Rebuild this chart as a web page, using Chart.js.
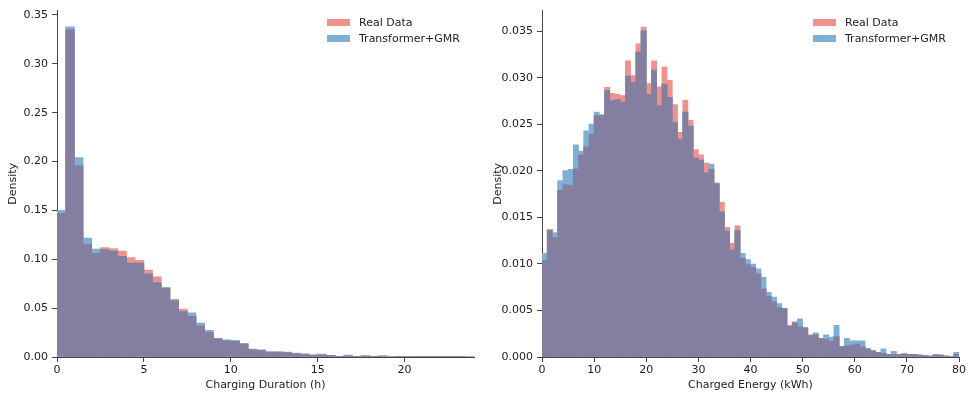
<!DOCTYPE html>
<html>
<head>
<meta charset="utf-8">
<script src="https://cdn.jsdelivr.net/npm/chart.js@4.4.0/dist/chart.umd.min.js"></script>
<style>
  body { margin: 0; background: #fff; width: 970px; height: 399px; overflow: hidden; font-family: "DejaVu Sans", sans-serif; }
  .panel { position: absolute; top: 0; width: 485px; height: 399px; }
  .legend { position: absolute; font-size: 11px; color: #222; }
  .legend-row { display: flex; align-items: center; height: 16px; }
  .legend-box { width: 23px; height: 7px; margin-right: 9px; }
</style>
</head>
<body>
<div class="panel" style="left:0"><canvas id="durationChart" width="485" height="399"></canvas></div>
<div class="panel" style="left:485px"><canvas id="energyChart" width="485" height="399"></canvas></div>

<script>
const seriesLabels = ["Real Data", "Transformer+GMR"];
const seriesColors = ["#f0918c", "#7eb0d6"];
const overlapColor = "#847fa0"; // where both translucent histograms cover each other

// charging duration (h), bins of 0.5 h from 0 to 24
const durationBinWidth = 0.5;
const durationReal = [
  0.147, 0.335, 0.196, 0.1156, 0.106, 0.112, 0.111, 0.1085, 0.1017, 0.099,
  0.0889, 0.082, 0.0705, 0.059, 0.049, 0.042, 0.032, 0.0253, 0.019, 0.0165,
  0.0163, 0.0135, 0.0077, 0.0068, 0.0053, 0.0054, 0.0051, 0.0040, 0.0034, 0.0020,
  0.0020, 0.0016, 0.0007, 0.0010, 0.0007, 0.0010, 0.0006, 0.0008, 0.0005, 0.0004,
  0.0004, 0.0003, 0.0002, 0.0002, 0.0001, 0.0001, 0.0004, 0.0001
];
const durationModel = [
  0.150, 0.338, 0.204, 0.1217, 0.1105, 0.110, 0.1085, 0.103, 0.096, 0.096,
  0.0848, 0.076, 0.071, 0.0574, 0.0466, 0.0452, 0.0348, 0.0274, 0.0189, 0.0175,
  0.0168, 0.0135, 0.0081, 0.0074, 0.0051, 0.0050, 0.0045, 0.0034, 0.0024, 0.0020,
  0.0030, 0.0017, 0.0007, 0.0020, 0.0007, 0.0014, 0.0006, 0.0014, 0.0005, 0.0003,
  0.0005, 0.0002, 0.0002, 0.0001, 0.0001, 0.0001, 0.0003, 0.0000
];
const durationXTicks = [0, 5, 10, 15, 20];
const durationYTicks = [0, 0.05, 0.10, 0.15, 0.20, 0.25, 0.30, 0.35];

// charged energy (kWh), bins of 1 kWh from 0 to 80
const energyBinWidth = 1;
const energyReal = [
  0.01035, 0.01372, 0.01283, 0.0179, 0.01854, 0.01844, 0.0202, 0.02173, 0.02259, 0.02394,
  0.02596, 0.0260, 0.02897, 0.02833, 0.02822, 0.02809, 0.03184, 0.03024, 0.03365, 0.03546,
  0.02939, 0.03184, 0.02904, 0.03117, 0.02974, 0.02713, 0.02415, 0.02762, 0.02543, 0.0223,
  0.02173, 0.02085, 0.0202, 0.01872, 0.01663, 0.01394, 0.01223, 0.01411, 0.0106, 0.00993,
  0.00964, 0.00894, 0.00734, 0.00652, 0.00592, 0.00532, 0.00521, 0.0034, 0.00379, 0.00326,
  0.0031, 0.00237, 0.0024, 0.00202, 0.00191, 0.0017, 0.0022, 0.00113, 0.0012, 0.00128,
  0.0014, 0.0011, 0.00088, 0.00067, 0.00049, 0.0004, 0.0003, 0.0003, 0.0003, 0.0003,
  0.0003, 0.0003, 0.0002, 0.00015, 0.0001, 0.0002, 0.0002, 0.0001, 0.00005, 0.0003
];
const energyModel = [
  0.01113, 0.01362, 0.01336, 0.01897, 0.02003, 0.02017, 0.0228, 0.0221, 0.02432, 0.02503,
  0.02631, 0.02599, 0.02865, 0.02755, 0.02766, 0.0274, 0.0302, 0.0295, 0.03277, 0.03506,
  0.02822, 0.03085, 0.02702, 0.02932, 0.0279, 0.02521, 0.02336, 0.02631, 0.02482, 0.02138,
  0.02117, 0.01979, 0.02074, 0.01862, 0.0156, 0.01354, 0.01149, 0.01358, 0.01113, 0.01046,
  0.0100, 0.00947, 0.00857, 0.00695, 0.00645, 0.00574, 0.00521, 0.00333, 0.0037, 0.00411,
  0.00319, 0.0023, 0.00259, 0.00202, 0.00237, 0.00213, 0.0034, 0.00113, 0.00202, 0.00173,
  0.00173, 0.00173, 0.00088, 0.00067, 0.00049, 0.00088, 0.0003, 0.0006, 0.0003, 0.0004,
  0.0003, 0.0003, 0.0002, 0.00015, 0.0001, 0.0003, 0.0002, 0.0001, 0.00005, 0.0005
];
const energyXTicks = [0, 10, 20, 30, 40, 50, 60, 70, 80];
const energyYTicks = [0, 0.005, 0.010, 0.015, 0.020, 0.025, 0.030, 0.035];

const font = { family: "'DejaVu Sans', sans-serif", size: 11 };
const textColor = "#222";
const axisColor = "#444";

// turn a list of bin heights into {x: bin centre, y: height} points
const toPoints = (values, width) => values.map((v, i) => ({ x: (i + 0.5) * width, y: v }));

function makeChart(id, cfg) {
  const barOpts = { borderWidth: 0, barPercentage: 1, categoryPercentage: 1, grouped: false };
  const shared = cfg.real.map((v, i) => Math.min(v, cfg.model[i]));
  const datasets = [
    { label: seriesLabels[0], data: toPoints(cfg.real, cfg.binWidth), backgroundColor: seriesColors[0], order: 3, ...barOpts },
    { label: seriesLabels[1], data: toPoints(cfg.model, cfg.binWidth), backgroundColor: seriesColors[1], order: 2, ...barOpts },
    { label: "overlap", data: toPoints(shared, cfg.binWidth), backgroundColor: overlapColor, order: 1, ...barOpts }
  ];

  const axisGrid = { display: true, drawOnChartArea: false, drawTicks: true, tickLength: 5, color: axisColor, offset: false };

  return new Chart(document.getElementById(id), {
    type: "bar",
    data: { datasets },
    options: {
      responsive: false,
      animation: false,
      events: [],
      layout: { padding: { top: 7, right: 11, left: 0, bottom: 0 } },
      plugins: { legend: { display: false }, tooltip: { enabled: false } },
      scales: {
        x: {
          type: "linear",
          offset: false,
          min: 0,
          max: cfg.xMax,
          grid: axisGrid,
          border: { display: true, color: axisColor, width: 1 },
          afterBuildTicks: s => { s.ticks = cfg.xTicks.map(v => ({ value: v })); },
          afterFit: s => { s.height = 42; },
          ticks: { font, color: textColor, padding: 2, maxRotation: 0, callback: v => String(v) },
          title: { display: true, text: cfg.xTitle, font, color: textColor, padding: { top: 0, bottom: 7 } }
        },
        y: {
          min: 0,
          max: cfg.yMax,
          grid: axisGrid,
          border: { display: true, color: axisColor, width: 1 },
          afterBuildTicks: s => { s.ticks = cfg.yTicks.map(v => ({ value: v })); },
          afterFit: s => { s.width = 57; },
          ticks: { font, color: textColor, padding: 4, callback: v => v.toFixed(cfg.yDigits) },
          title: { display: true, text: "Density", font, color: textColor, padding: { top: 7, bottom: 0 } }
        }
      }
    }
  });
}

function addLegend(left) {
  const box = document.createElement("div");
  box.className = "legend";
  box.style.left = left + "px";
  box.style.top = "14px";
  seriesLabels.forEach((label, i) => {
    const row = document.createElement("div");
    row.className = "legend-row";
    row.innerHTML = '<div class="legend-box" style="background:' + seriesColors[i] + '"></div><span>' + label + "</span>";
    box.appendChild(row);
  });
  document.body.appendChild(box);
}

makeChart("durationChart", {
  real: durationReal, model: durationModel, binWidth: durationBinWidth,
  xMax: 24, yMax: 0.3545, xTicks: durationXTicks, yTicks: durationYTicks, yDigits: 2,
  xTitle: "Charging Duration (h)"
});
makeChart("energyChart", {
  real: energyReal, model: energyModel, binWidth: energyBinWidth,
  xMax: 80, yMax: 0.03723, xTicks: energyXTicks, yTicks: energyYTicks, yDigits: 3,
  xTitle: "Charged Energy (kWh)"
});

addLegend(327);
addLegend(813);
</script>
</body>
</html>
